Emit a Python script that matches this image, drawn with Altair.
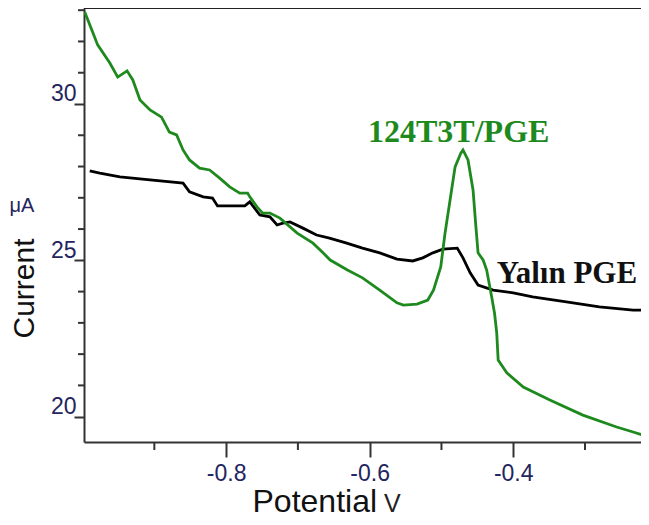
import altair as alt
import pandas as pd

# ---- data ----
green_x = [-0.997, -0.986, -0.979, -0.962, -0.951, -0.938, -0.930, -0.920, -0.906, -0.890,
           -0.879, -0.869, -0.860, -0.851, -0.837, -0.823, -0.809, -0.795, -0.781, -0.770,
           -0.767, -0.757, -0.749, -0.739, -0.725, -0.701, -0.679, -0.665, -0.655, -0.631,
           -0.610, -0.586, -0.562, -0.553, -0.534, -0.519, -0.511, -0.501, -0.495, -0.488,
           -0.481, -0.473, -0.470, -0.463, -0.456, -0.452, -0.449, -0.442, -0.437, -0.430,
           -0.426, -0.423, -0.421, -0.409, -0.386, -0.349, -0.303, -0.256, -0.233, -0.211]
green_y = [32.94, 32.30, 31.89, 31.31, 30.86, 31.06, 30.77, 30.13, 29.81, 29.58,
           29.10, 29.01, 28.53, 28.21, 27.95, 27.89, 27.63, 27.35, 27.15, 27.15,
           27.03, 26.71, 26.51, 26.51, 26.35, 25.87, 25.55, 25.24, 25.01, 24.69,
           24.44, 24.05, 23.64, 23.57, 23.60, 23.73, 24.05, 24.79, 25.87, 26.93,
           27.99, 28.43, 28.53, 28.21, 27.25, 26.07, 25.24, 25.01, 24.69, 23.83,
           23.30, 22.68, 21.81, 21.40, 20.95, 20.53, 20.05, 19.67, 19.51, 19.35]

black_x = [-0.990, -0.976, -0.948, -0.906, -0.860, -0.851, -0.832, -0.819, -0.812, -0.774,
           -0.767, -0.753, -0.739, -0.729, -0.721, -0.711, -0.693, -0.674, -0.656, -0.632,
           -0.610, -0.586, -0.562, -0.540, -0.526, -0.512, -0.498, -0.478, -0.470, -0.460,
           -0.449, -0.428, -0.400, -0.373, -0.326, -0.280, -0.233, -0.211]
black_y = [27.86, 27.79, 27.67, 27.57, 27.47, 27.19, 27.03, 26.99, 26.74, 26.74,
           26.87, 26.45, 26.39, 26.13, 26.19, 26.23, 26.03, 25.81, 25.71, 25.55,
           25.39, 25.24, 25.04, 24.98, 25.08, 25.24, 25.36, 25.39, 25.08, 24.60,
           24.21, 24.05, 23.96, 23.83, 23.67, 23.51, 23.41, 23.41]

x_major = [-0.8, -0.6, -0.4]
x_minor = [-0.9, -0.7, -0.5, -0.3]
y_major = [20, 25, 30]
y_minor = [21, 22, 23, 24, 26, 27, 28, 29, 31, 32, 33]
x_domain = [-0.998, -0.222]
y_domain = [19.19, 33.07]

series_labels = ["124T3T/PGE", "Yalın PGE"]

GREEN = "#1e8a1e"
LABEL_COLOR = "#24245e"
AXIS_COLOR = "#333333"
W, H = 557, 434

green_df = pd.DataFrame({"potential": green_x, "current": green_y, "i": range(len(green_x))})
black_df = pd.DataFrame({"potential": black_x, "current": black_y, "i": range(len(black_x))})
xminor_df = pd.DataFrame({"potential": x_minor})
yminor_df = pd.DataFrame({"current": y_minor})
one = pd.DataFrame({"a": [0]})

x_scale = alt.Scale(domain=x_domain, nice=False, zero=False)
y_scale = alt.Scale(domain=y_domain, nice=False, zero=False)

x_enc = alt.X(
    "potential:Q",
    scale=x_scale,
    axis=alt.Axis(
        values=x_major,
        format=".1f",
        labelExpr="'-0.' + abs(round(datum.value*10))",
        tickSize=15,
        tickWidth=2,
        tickColor=AXIS_COLOR,
        domainColor=AXIS_COLOR,
        domainWidth=2,
        grid=False,
        labelFont="Liberation Sans",
        labelFontSize=23,
        labelColor=LABEL_COLOR,
        labelPadding=5,
        labelFlush=False,
        labelOverlap=False,
        title="Potential",
        titleFont="Liberation Sans",
        titleFontSize=32,
        titleFontWeight="normal",
        titleColor="#111111",
        titleX=168,
        titleY=69,
        titleAlign="left",
        titleBaseline="alphabetic",
    ),
)
y_enc = alt.Y(
    "current:Q",
    scale=y_scale,
    axis=alt.Axis(
        values=y_major,
        tickSize=10,
        tickWidth=2,
        tickColor=AXIS_COLOR,
        domainColor=AXIS_COLOR,
        domainWidth=2,
        grid=False,
        labelFont="Liberation Sans",
        labelFontSize=23,
        labelColor=LABEL_COLOR,
        labelPadding=-2,
        labelBaseline="alphabetic",
        labelOffset=-3,
        labelFlush=False,
        labelOverlap=False,
        title="Current",
        titleFont="Liberation Sans",
        titleFontSize=30,
        titleFontWeight="normal",
        titleColor="#111111",
        titleAngle=270,
        titleX=-51,
        titleY=280,
        titleAlign="center",
        titleBaseline="alphabetic",
    ),
)

black_line = alt.Chart(black_df).mark_line(color="#000000", strokeWidth=2.8, clip=True).encode(
    x=x_enc, y=y_enc, order="i:Q")
green_line = alt.Chart(green_df).mark_line(color=GREEN, strokeWidth=2.8, clip=True).encode(
    x=x_enc, y=y_enc, order="i:Q")

# minor ticks
x_minor_ticks = alt.Chart(xminor_df).mark_rule(color=AXIS_COLOR, strokeWidth=2).encode(
    x=alt.X("potential:Q", scale=x_scale), y=alt.value(H), y2=alt.value(H + 8))
y_minor_ticks = alt.Chart(yminor_df).mark_rule(color=AXIS_COLOR, strokeWidth=2).encode(
    y=alt.Y("current:Q", scale=y_scale), x=alt.value(-6), x2=alt.value(0))

lab1 = alt.Chart(one).mark_text(
    text=series_labels[0], font="Liberation Serif", fontWeight="bold", fontSize=32,
    color=GREEN, align="center", baseline="alphabetic"
).encode(x=alt.datum(-0.476), y=alt.datum(28.78))
lab2 = alt.Chart(one).mark_text(
    text=series_labels[1], font="Liberation Serif", fontWeight="bold", fontSize=31,
    color="#111111", align="left", baseline="alphabetic"
).encode(x=alt.datum(-0.423), y=alt.datum(24.28))

top_border = alt.Chart(one).mark_rule(color="#222222", strokeWidth=2).encode(
    x=alt.value(0), x2=alt.value(W), y=alt.value(0))

unit_y = alt.Chart(one).mark_text(
    text="μA", font="Liberation Sans", fontSize=20, color=LABEL_COLOR,
    align="center", baseline="alphabetic"
).encode(x=alt.value(-62), y=alt.value(204))
unit_x = alt.Chart(one).mark_text(
    text="V", font="Liberation Sans", fontSize=25, color="#222222",
    align="left", baseline="alphabetic"
).encode(x=alt.value(300), y=alt.value(504))

chart = alt.layer(
    black_line, green_line, x_minor_ticks, y_minor_ticks, lab1, lab2, top_border, unit_y, unit_x
).properties(
    width=W, height=H,
    autosize=alt.AutoSizeParams(type="none"),
    padding={"left": 76, "top": 0, "right": 0, "bottom": 75},
    background="white",
).configure_view(strokeWidth=0)

chart.save("out.html", embed_options={"renderer": "svg", "actions": False})
